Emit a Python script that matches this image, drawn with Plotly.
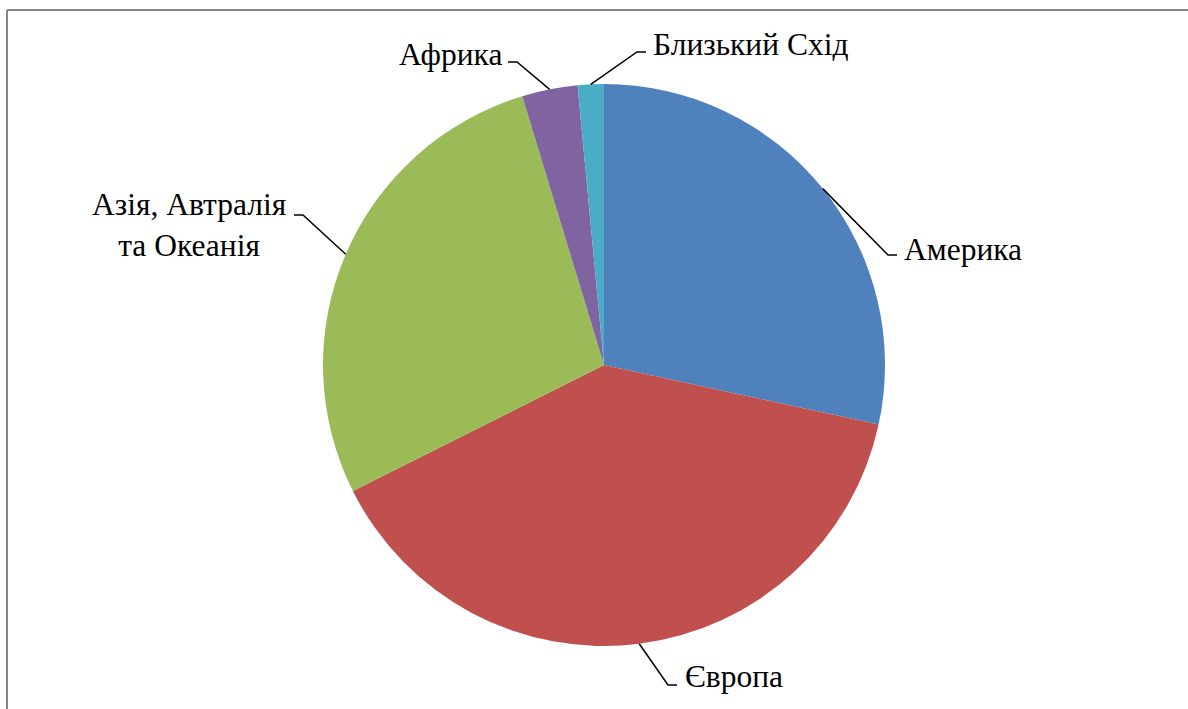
import math
import plotly.graph_objects as go

W, H = 1188, 709

# Data
categories = ["Америка", "Європа", "Азія, Автралія<br>та Океанія", "Африка", "Близький Схід"]
values = [28.4, 39.2, 27.7, 3.2, 1.5]
colors = ["#4F81BD", "#C0504D", "#9BBB59", "#8064A2", "#4BACC6"]

# Layout (pixel geometry)
cx, cy, R = 604, 365, 281
# elbow points of leader lines and label anchors (pixels)
elbows = [(888, 255), (668, 685), (303, 215), (517, 62), (637, 52)]
hdir = [1, 1, -1, -1, 1]
labels_pos = [(902, 249, "left"), (683, 676, "left"), (288, 225, "right"), (504, 55, "right"), (651, 44, "left")]
FONT = "Liberation Serif"


def px(x):
    return x / W


def py(y):
    return 1 - y / H


fig = go.Figure()
fig.add_trace(go.Pie(
    labels=categories,
    values=values,
    sort=False,
    direction="clockwise",
    rotation=0,
    marker=dict(colors=colors, line=dict(width=0)),
    textinfo="none",
    hoverinfo="label+percent",
    showlegend=False,
    domain=dict(x=[px(cx - R), px(cx + R)], y=[py(cy + R), py(cy - R)]),
))

shapes = []
annotations = []
total = sum(values)
cum = 0.0
for i, v in enumerate(values):
    mid = (cum + v / 2) / total * 2 * math.pi
    cum += v
    ex = cx + R * math.sin(mid)
    ey = cy - R * math.cos(mid)
    bx, by = elbows[i]
    hx = bx + hdir[i] * 9
    shapes.append(dict(
        type="path", xref="paper", yref="paper",
        path=f"M {px(ex)} {py(ey)} L {px(bx)} {py(by)} L {px(hx)} {py(by)}",
        line=dict(color="black", width=1.5),
    ))
    lx, ly, anc = labels_pos[i]
    annotations.append(dict(
        x=px(lx), y=py(ly), xref="paper", yref="paper",
        text=categories[i], showarrow=False,
        xanchor=anc, yanchor="middle", align="center",
        font=dict(family=FONT, size=31.5, color="black"),
    ))

# chart border (top and left visible)
shapes.append(dict(type="line", xref="paper", yref="paper",
                   x0=px(7), y0=py(10), x1=1.01, y1=py(10),
                   line=dict(color="#868686", width=2)))
shapes.append(dict(type="line", xref="paper", yref="paper",
                   x0=px(7), y0=py(10), x1=px(7), y1=-0.01,
                   line=dict(color="#868686", width=2)))

fig.update_layout(
    width=W, height=H,
    margin=dict(l=0, r=0, t=0, b=0),
    paper_bgcolor="white",
    plot_bgcolor="white",
    font=dict(family=FONT),
    shapes=shapes,
    annotations=annotations,
)

fig.write_html("out.html", config={"displayModeBar": False},
               post_script="document.body.style.margin='0';document.body.style.padding='0';")
